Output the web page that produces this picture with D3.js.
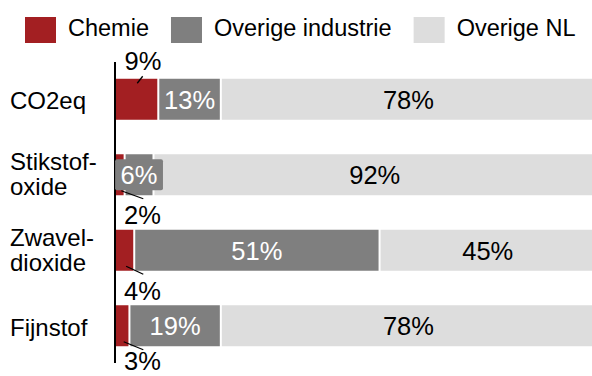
<!DOCTYPE html>
<html><head><meta charset="utf-8">
<script src="https://cdn.jsdelivr.net/npm/d3@7"></script>
<style>body{margin:0;background:#fff}svg{display:block}text{font-family:"Liberation Sans",Arial,sans-serif}</style>
</head><body><svg id="chart" width="592" height="376"></svg>
<script>
const categories = ["CO2eq", "Stikstofoxide", "Zwaveldioxide", "Fijnstof"];
const categoryLabels = [["CO2eq"], ["Stikstof-", "oxide"], ["Zwavel-", "dioxide"], ["Fijnstof"]];
const seriesNames = ["Chemie", "Overige industrie", "Overige NL"];
const chemie = [9, 2, 4, 3];
const overigeIndustrie = [13, 6, 51, 19];
const overigeNL = [78, 92, 45, 78];
const colors = ["#a31f22", "#7f7f7f", "#dddddd"];

const svg = d3.select("#chart");
const x = d3.scaleLinear().domain([0, 100]).range([115, 596]);
const y = d3.scaleBand().domain(categories).range([62, 363]).paddingInner(0.457).paddingOuter(0.222);
const bw = y.bandwidth();

const rows = categories.map((c, i) => ({cat: c, idx: i, vals: [chemie[i], overigeIndustrie[i], overigeNL[i]]}));
const series = d3.stack().keys([0, 1, 2]).value((d, k) => d.vals[k])(rows);

// bars
const gBars = svg.append("g");
series.forEach((s, k) => {
  gBars.selectAll(null).data(s).join("rect")
    .attr("x", d => x(d[0]) + 1)
    .attr("width", d => Math.max(0, x(d[1]) - x(d[0]) - 2))
    .attr("y", d => y(d.data.cat))
    .attr("height", bw)
    .attr("fill", colors[k]);
});

// axis line
svg.append("line").attr("x1", 115).attr("x2", 115)
  .attr("y1", y.range()[0]).attr("y2", y.range()[1])
  .attr("stroke", "#000").attr("stroke-width", 2);

// labels for grey and light segments
const FS = 25.5;
[1, 2].forEach(k => {
  series[k].forEach(d => {
    const cx = (x(d[0]) + x(d[1])) / 2;
    const cy = y(d.data.cat) + bw / 2;
    const g = svg.append("g");
    const t = g.append("text").attr("x", cx).attr("y", cy + 9.3)
      .attr("text-anchor", "middle").attr("font-size", FS)
      .attr("fill", k === 1 ? "#fff" : "#000")
      .text(d.data.vals[k] + "%");
    const tw = t.node().getComputedTextLength();
    const segW = x(d[1]) - x(d[0]);
    if (tw > segW - 4) {
      g.insert("rect", "text").attr("x", cx - tw / 2 - 5.5).attr("width", tw + 11)
        .attr("y", cy - 15.5).attr("height", 31).attr("rx", 2)
        .attr("fill", colors[k]);
    }
  });
});

// repelled labels for Chemie
series[0].forEach((d, i) => {
  const segCx = (x(d[0]) + x(d[1])) / 2;
  const cy = y(d.data.cat) + bw / 2;
  const lx = 143;
  if (i === 0) {
    svg.append("line").attr("x1", segCx + 0.6).attr("y1", cy - 16)
      .attr("x2", lx - 0.3).attr("y2", cy - 23)
      .attr("stroke", "#000").attr("stroke-width", 1.3);
    svg.append("text").attr("x", lx).attr("y", cy - 29)
      .attr("text-anchor", "middle").attr("font-size", FS).attr("fill", "#000")
      .text(d.data.vals[0] + "%");
  } else {
    svg.append("line").attr("x1", segCx + 1.5).attr("y1", cy + 16)
      .attr("x2", lx + 0.3).attr("y2", cy + 24)
      .attr("stroke", "#000").attr("stroke-width", 1.3);
    svg.append("text").attr("x", lx - 0.5).attr("y", Math.min(cy + 49.5, 370))
      .attr("text-anchor", "middle").attr("font-size", FS).attr("fill", "#000")
      .text(d.data.vals[0] + "%");
  }
});

// category labels
categories.forEach((c, i) => {
  const cy = y(c) + bw / 2;
  const lines = categoryLabels[i];
  const t = svg.append("text").attr("font-size", 24).attr("fill", "#000");
  if (lines.length === 1) {
    t.append("tspan").attr("x", 10).attr("y", cy + 10).text(lines[0]);
  } else {
    lines.forEach((l, j) => t.append("tspan").attr("x", 10).attr("y", cy - 4.5 + j * 25).text(l));
  }
});

// legend
let lxp = 25;
seriesNames.forEach((n, k) => {
  svg.append("rect").attr("x", lxp).attr("y", 17).attr("width", 31).attr("height", 26).attr("fill", colors[k]);
  const t = svg.append("text").attr("x", lxp + 43).attr("y", 35.5).attr("font-size", 23.5).attr("fill", "#000").text(n);
  lxp = lxp + 43 + t.node().getComputedTextLength() + 22;
});
</script>
</body></html>
